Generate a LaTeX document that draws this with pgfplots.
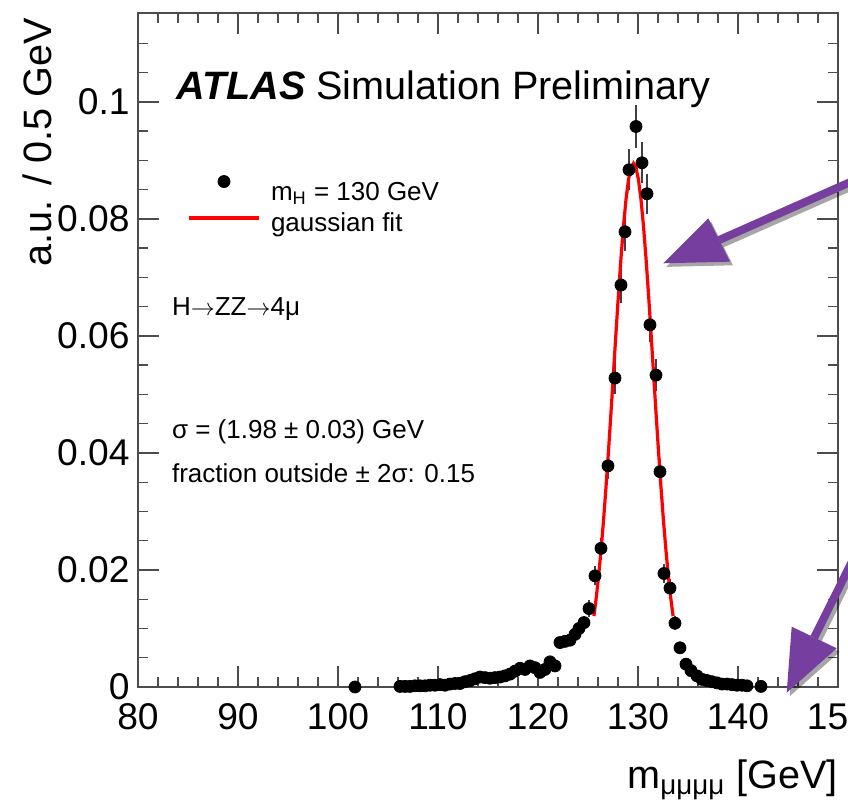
\documentclass[border=0pt]{standalone}
\usepackage{fontspec}
\setmainfont{Liberation Sans}
\usepackage{pgfplots}
\usepackage{pgfplotstable}
\pgfplotsset{compat=1.18}

\definecolor{arrowpurple}{RGB}{118,62,158}

% simulated m_4mu spectrum: bin centre, content, stat. error
\pgfplotstableread{
x y ey
101.7 0.0000 0.0002
106.2 0.0001 0.0002
106.7 0.0001 0.0002
107.2 0.0001 0.0002
107.7 0.0002 0.0002
108.2 0.0002 0.0002
108.7 0.0002 0.0002
109.2 0.0003 0.0002
109.7 0.0003 0.0002
110.2 0.0004 0.0003
110.7 0.0003 0.0002
111.2 0.0005 0.0003
111.7 0.0006 0.0003
112.2 0.0006 0.0003
112.7 0.0009 0.0003
113.2 0.0011 0.0004
113.7 0.0014 0.0004
114.2 0.0017 0.0005
114.7 0.0016 0.0005
115.2 0.0015 0.0004
115.7 0.0016 0.0005
116.2 0.0017 0.0005
116.7 0.0019 0.0005
117.2 0.0022 0.0005
117.7 0.0027 0.0006
118.2 0.0032 0.0006
118.7 0.0030 0.0006
119.2 0.0036 0.0007
119.7 0.0033 0.0007
120.2 0.0025 0.0006
120.7 0.0030 0.0006
121.2 0.0043 0.0008
121.7 0.0036 0.0007
122.2 0.0076 0.0010
122.7 0.0078 0.0010
123.2 0.0080 0.0010
123.7 0.0090 0.0011
124.1 0.0100 0.0012
124.6 0.0110 0.0012
125.1 0.0134 0.0014
125.7 0.0190 0.0016
126.3 0.0237 0.0018
127.0 0.0378 0.0023
127.7 0.0528 0.0027
128.3 0.0687 0.0031
128.7 0.0778 0.0032
129.1 0.0884 0.0035
129.8 0.0958 0.0036
130.4 0.0896 0.0035
130.9 0.0843 0.0034
131.2 0.0619 0.0029
131.8 0.0533 0.0027
132.2 0.0368 0.0022
132.6 0.0194 0.0016
133.2 0.0169 0.0015
133.7 0.0109 0.0012
134.2 0.0067 0.0010
134.8 0.0039 0.0007
135.3 0.0028 0.0006
135.9 0.0019 0.0005
136.4 0.0013 0.0004
136.9 0.0011 0.0004
137.4 0.0009 0.0003
137.9 0.0007 0.0003
138.4 0.0005 0.0003
138.9 0.0005 0.0003
139.4 0.0004 0.0002
139.9 0.0003 0.0002
140.4 0.0003 0.0002
140.9 0.0002 0.0002
142.3 0.0001 0.0002
}\mcdata

% gaussian fit curve, sampled over +-2 sigma
\pgfplotstableread{
x y
125.59 0.01211
125.80 0.01489
126.05 0.01877
126.30 0.02327
126.55 0.02840
126.80 0.03412
127.05 0.04033
127.30 0.04692
127.55 0.05373
127.80 0.06056
128.05 0.06717
128.30 0.07333
128.55 0.07878
128.80 0.08331
129.05 0.08669
129.30 0.08879
129.55 0.08950
129.80 0.08879
130.05 0.08669
130.30 0.08331
130.55 0.07878
130.80 0.07333
131.05 0.06717
131.30 0.06056
131.55 0.05373
131.80 0.04692
132.05 0.04033
132.30 0.03412
132.55 0.02840
132.80 0.02327
133.05 0.01877
133.30 0.01489
133.51 0.01211
}\fitcurve

\begin{document}
\begin{tikzpicture}
\begin{axis}[
  scale only axis,
  width=350pt, height=337pt,
  at={(0pt,0pt)}, anchor=south west,
  xmin=80, xmax=150, ymin=0, ymax=0.1152,
  clip=false,
  tick pos=both, tick align=inside,
  xtick={80,90,...,150},
  minor xtick={82,84,86,88,92,94,96,98,102,104,106,108,112,114,116,118,122,124,126,128,132,134,136,138,142,144,146,148},
  ytick={0,0.02,0.04,0.06,0.08,0.1},
  yticklabels={0,0.02,0.04,0.06,0.08,0.1},
  minor ytick={0.005,0.01,0.015,0.025,0.03,0.035,0.045,0.05,0.055,0.065,0.07,0.075,0.085,0.09,0.095,0.105,0.11},
  scaled y ticks=false,
  major tick length=10.5pt, minor tick length=5pt,
  axis line style={black!70, line width=0.9pt},
  every tick/.style={black!70, line width=0.7pt},
  /pgf/number format/assume math mode=true,
  tick label style={font=\fontsize{18.6}{20}\selectfont, inner sep=0pt},
  xticklabel style={yshift=-8pt},
  yticklabel style={xshift=-4pt},
  xlabel={m\textsubscript{μμμμ} [GeV]},
  xlabel style={font=\fontsize{19.8}{22}\selectfont, inner sep=0pt,
    at={(rel axis cs:1,-0.1499)}, anchor=base east},
  ylabel={a.u. / 0.5 GeV},
  ylabel style={font=\fontsize{19.8}{22}\selectfont, inner sep=0pt,
    at={(rel axis cs:-0.1443,0.9926)}, anchor=east},
  legend style={draw=none, fill=none, at={(rel axis cs:0.0700,0.7600)},
    anchor=north west, font=\fontsize{13}{15}\selectfont, row sep=1pt,
    inner sep=0pt, cells={anchor=west}},
  legend cell align=left,
]
\addplot[only marks, mark=*, mark size=3pt, black,
  legend image code/.code={
    \fill[black] (17.5pt,5.5pt) circle (3pt);
    \path[draw=none, fill=none] (0pt,0pt) rectangle (39pt,0pt);},
  error bars/.cd, y dir=both, y explicit,
  error bar style={black!75, line width=0.6pt}, error mark=none]
  table[x=x, y=y, y error=ey] {\mcdata};
\addlegendentry{m\textsubscript{H} = 130 GeV}
\addplot[red, line width=1.6pt, no marks, legend image code/.code={
    \draw[red, line width=1.6pt] (0pt,3pt) -- (35pt,3pt);
    \path[draw=none, fill=none] (0pt,0pt) rectangle (39pt,0pt);}]
  table[x=x, y=y] {\fitcurve};
\addlegendentry{gaussian fit}

\node[anchor=base west, inner sep=0pt, font=\fontsize{19.8}{22}\selectfont]
  at (rel axis cs:0.0543,0.8709) {\textbf{\textit{ATLAS}} Simulation Preliminary};
\node[anchor=base west, inner sep=0pt, font=\fontsize{13}{15}\selectfont]
  at (rel axis cs:0.0481,0.5519) {H$\rightarrow$ZZ$\rightarrow$4μ};
\node[anchor=base west, inner sep=0pt, font=\fontsize{13}{15}\selectfont]
  at (rel axis cs:0.0481,0.3680) {σ = (1.98 ± 0.03) GeV};
\node[anchor=base west, inner sep=0pt, font=\fontsize{13}{15}\selectfont]
  at (rel axis cs:0.0481,0.3027) {fraction outside ± 2σ: 0.15};
\end{axis}

% highlighting arrows with a soft shadow
\begin{scope}[shift={(1.5pt,-1.8pt)}, black, opacity=0.35]
  \draw[line width=4pt] (366pt,256.8pt) -- (290.6pt,223.5pt);
  \fill (262.65pt,211.85pt) -- (285.15pt,234.35pt) -- (296pt,212.65pt) -- cycle;
  \draw[line width=4pt] (379.35pt,107.55pt) -- (338.1pt,24.75pt);
  \fill (324.35pt,-2.85pt) -- (326.85pt,30.15pt) -- (349.35pt,19.35pt) -- cycle;
\end{scope}
\begin{scope}[arrowpurple]
  \draw[line width=4pt] (366pt,256.8pt) -- (290.6pt,223.5pt);
  \fill (262.65pt,211.85pt) -- (285.15pt,234.35pt) -- (296pt,212.65pt) -- cycle;
  \draw[line width=4pt] (379.35pt,107.55pt) -- (338.1pt,24.75pt);
  \fill (324.35pt,-2.85pt) -- (326.85pt,30.15pt) -- (349.35pt,19.35pt) -- cycle;
\end{scope}

\pgfresetboundingbox
\useasboundingbox (-69pt,-59.5pt) rectangle (355pt,343.5pt);
\end{tikzpicture}
\end{document}
